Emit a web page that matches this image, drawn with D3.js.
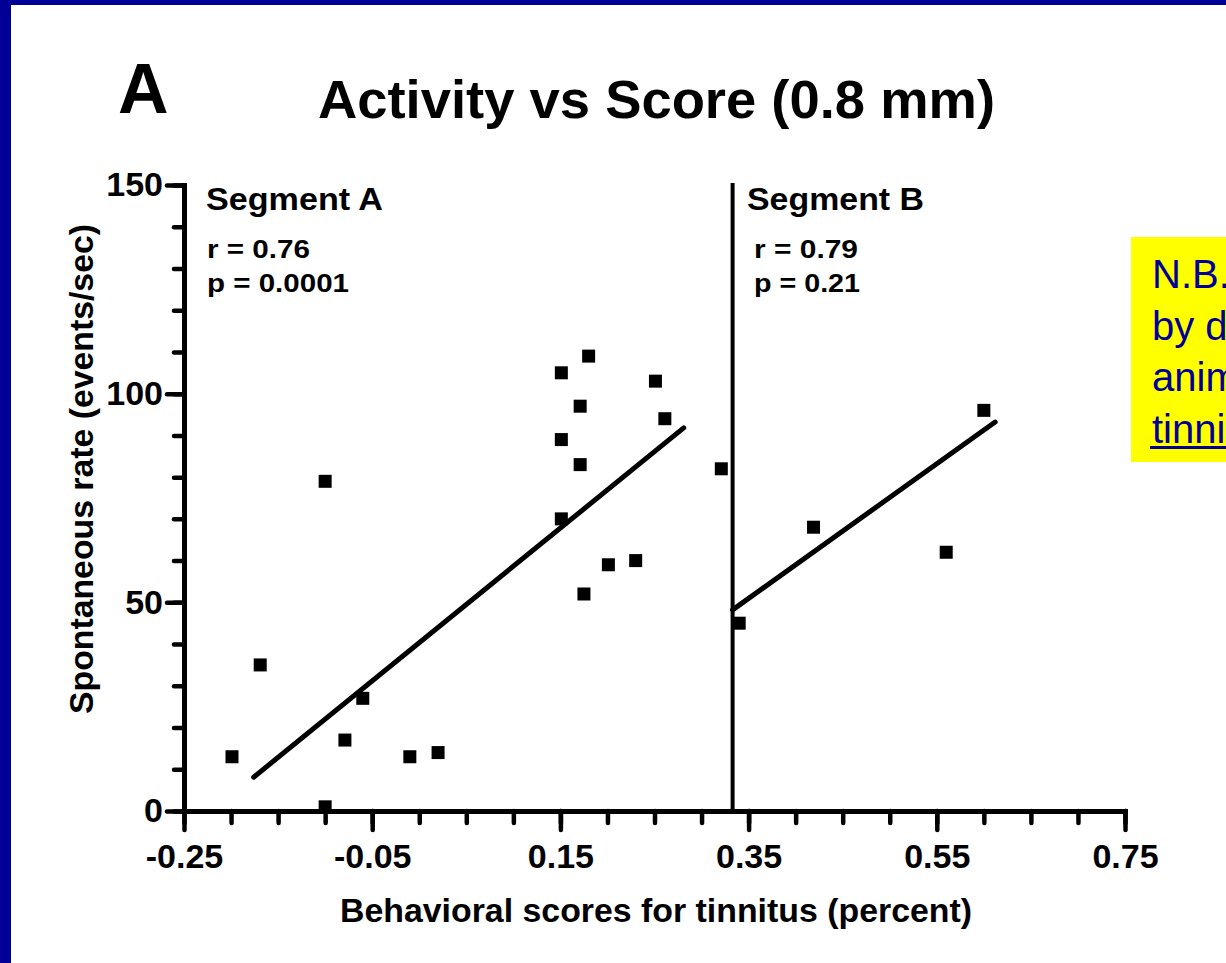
<!DOCTYPE html>
<html>
<head>
<meta charset="utf-8">
<script src="https://cdn.jsdelivr.net/npm/d3@7"></script>
<style>
  html, body { margin: 0; padding: 0; background: #fff; }
  svg { display: block; }
  text { font-family: "Liberation Sans", Arial, Helvetica, sans-serif; }
</style>
</head>
<body>
<script>
// Segment A: behavioral score vs spontaneous rate
const segAx = [-0.199, -0.169, -0.100, -0.100, -0.079, -0.060, -0.010, 0.020,
               0.151, 0.180, 0.151, 0.171, 0.171, 0.151, 0.201, 0.175,
               0.230, 0.251, 0.261, 0.321];
const segAy = [13, 35, 79, 1, 17, 27, 13, 14,
               105, 109, 89, 97, 83, 70, 59, 52,
               60, 103, 94, 82];
// Segment B
const segBx = [0.340, 0.419, 0.560, 0.600];
const segBy = [45, 68, 62, 96];
// Regression line end points
const fitAx = [-0.176, 0.281];
const fitAy = [8.1, 91.8];
const fitBx = [0.333, 0.612];
const fitBy = [48.2, 93.2];
// Boundary between the two segments
const divideX = 0.333;
// Axis ticks
const xMajorTicks = [-0.25, -0.05, 0.15, 0.35, 0.55, 0.75];
const xMinorTicks = d3.range(-0.25, 0.7501, 0.05);
const yMajorTicks = [0, 50, 100, 150];
const yMinorTicks = d3.range(0, 150.01, 10);
const statsA = ["Segment A", "r = 0.76", "p = 0.0001"];
const statsB = ["Segment B", "r = 0.79", "p = 0.21"];
const noteLines = ["N.B. Points grouped", "by degree of", "animals' behavioral", "tinnitus"];

const W = 1226, H = 963;
const svg = d3.select("body").append("svg").attr("width", W).attr("height", H);

// Slide frame
svg.append("rect").attr("x", 0).attr("y", 0).attr("width", W).attr("height", H).attr("fill", "#000099");
svg.append("rect").attr("x", 11).attr("y", 5).attr("width", W).attr("height", H).attr("fill", "#fff");

const x = d3.scaleLinear().domain([-0.25, 0.75]).range([184, 1125]);
const y = d3.scaleLinear().domain([0, 150]).range([811, 185]);

// Panel letter and title
svg.append("text").attr("x", 118).attr("y", 113).attr("font-size", 70).attr("font-weight", "bold")
  .text("A");
svg.append("text").attr("x", 318).attr("y", 118).attr("font-size", 54).attr("font-weight", "bold")
  .attr("textLength", 677).attr("lengthAdjust", "spacingAndGlyphs")
  .text("Activity vs Score (0.8 mm)");

function styleAxis(g) {
  g.selectAll("path.domain").attr("stroke", "#000").attr("stroke-width", 5).attr("stroke-linecap", "square");
  g.selectAll(".tick line").attr("stroke", "#000").attr("stroke-width", 4.5).attr("stroke-linecap", "round");
  g.selectAll(".tick text").attr("fill", "#000").attr("font-size", 34).attr("font-weight", "bold")
    .attr("font-family", "'Liberation Sans', Arial, sans-serif");
}

// Y axis: minor then major ticks
svg.append("g").attr("transform", "translate(184,0)")
  .call(d3.axisLeft(y).tickValues(yMinorTicks).tickSize(10).tickSizeOuter(0).tickFormat(""))
  .call(styleAxis);
svg.append("g").attr("transform", "translate(184,0)")
  .call(d3.axisLeft(y).tickValues(yMajorTicks).tickSize(17).tickSizeOuter(0).tickPadding(4).tickFormat(d => String(d)))
  .call(styleAxis);

// X axis: minor then major ticks
svg.append("g").attr("transform", "translate(0,811)")
  .call(d3.axisBottom(x).tickValues(xMinorTicks).tickSize(12).tickSizeOuter(0).tickFormat(""))
  .call(styleAxis);
svg.append("g").attr("transform", "translate(0,811)")
  .call(d3.axisBottom(x).tickValues(xMajorTicks).tickSize(19).tickSizeOuter(0).tickPadding(14).tickFormat(d => d.toFixed(2)))
  .call(styleAxis);

// Axis titles
svg.append("text").attr("transform", "translate(93,469) rotate(-90)").attr("text-anchor", "middle")
  .attr("font-size", 33).attr("font-weight", "bold")
  .attr("textLength", 490).attr("lengthAdjust", "spacingAndGlyphs")
  .text("Spontaneous rate (events/sec)");
svg.append("text").attr("x", 656).attr("y", 922).attr("text-anchor", "middle")
  .attr("font-size", 34).attr("font-weight", "bold")
  .attr("textLength", 632).attr("lengthAdjust", "spacingAndGlyphs")
  .text("Behavioral scores for tinnitus (percent)");

// Segment divider
svg.append("line").attr("x1", x(divideX)).attr("x2", x(divideX)).attr("y1", y(150) - 2).attr("y2", y(0))
  .attr("stroke", "#000").attr("stroke-width", 4);

// Fit lines
const line = d3.line().x(d => x(d[0])).y(d => y(d[1]));
[[fitAx, fitAy], [fitBx, fitBy]].forEach(([fx, fy]) => {
  svg.append("path").datum(fx.map((v, i) => [v, fy[i]])).attr("d", line)
    .attr("fill", "none").attr("stroke", "#000").attr("stroke-width", 5).attr("stroke-linecap", "round");
});

// Data points
const sq = 13;
const pts = segAx.map((v, i) => [v, segAy[i]]).concat(segBx.map((v, i) => [v, segBy[i]]));
svg.append("g").selectAll("rect").data(pts).join("rect")
  .attr("x", d => x(d[0]) - sq / 2).attr("y", d => y(d[1]) - sq / 2)
  .attr("width", sq).attr("height", sq).attr("fill", "#000");

// Segment statistics
function stats(lines, x0, x1, lens) {
  svg.append("text").attr("x", x0).attr("y", 210).attr("font-size", 32).attr("font-weight", "bold")
    .attr("textLength", 177).attr("lengthAdjust", "spacingAndGlyphs").text(lines[0]);
  svg.append("text").attr("x", x1).attr("y", 258).attr("font-size", 25).attr("font-weight", "bold")
    .attr("textLength", lens[0]).attr("lengthAdjust", "spacingAndGlyphs").text(lines[1]);
  svg.append("text").attr("x", x1).attr("y", 292).attr("font-size", 25).attr("font-weight", "bold")
    .attr("textLength", lens[1]).attr("lengthAdjust", "spacingAndGlyphs").text(lines[2]);
}
stats(statsA, 206, 207, [103, 142]);
stats(statsB, 747, 754, [104, 106]);

// Note box on the right
svg.append("rect").attr("x", 1131).attr("y", 237).attr("width", 200).attr("height", 225).attr("fill", "#ffff00");
const note = svg.append("g");
noteLines.forEach((t, i) => {
  note.append("text").attr("x", 1152).attr("y", 288 + i * 51.5).attr("font-size", 40)
    .attr("fill", "#000099").text(t);
});
svg.append("rect").attr("x", 1150).attr("y", 446).attr("width", 150).attr("height", 3).attr("fill", "#000099");
</script>
</body>
</html>
